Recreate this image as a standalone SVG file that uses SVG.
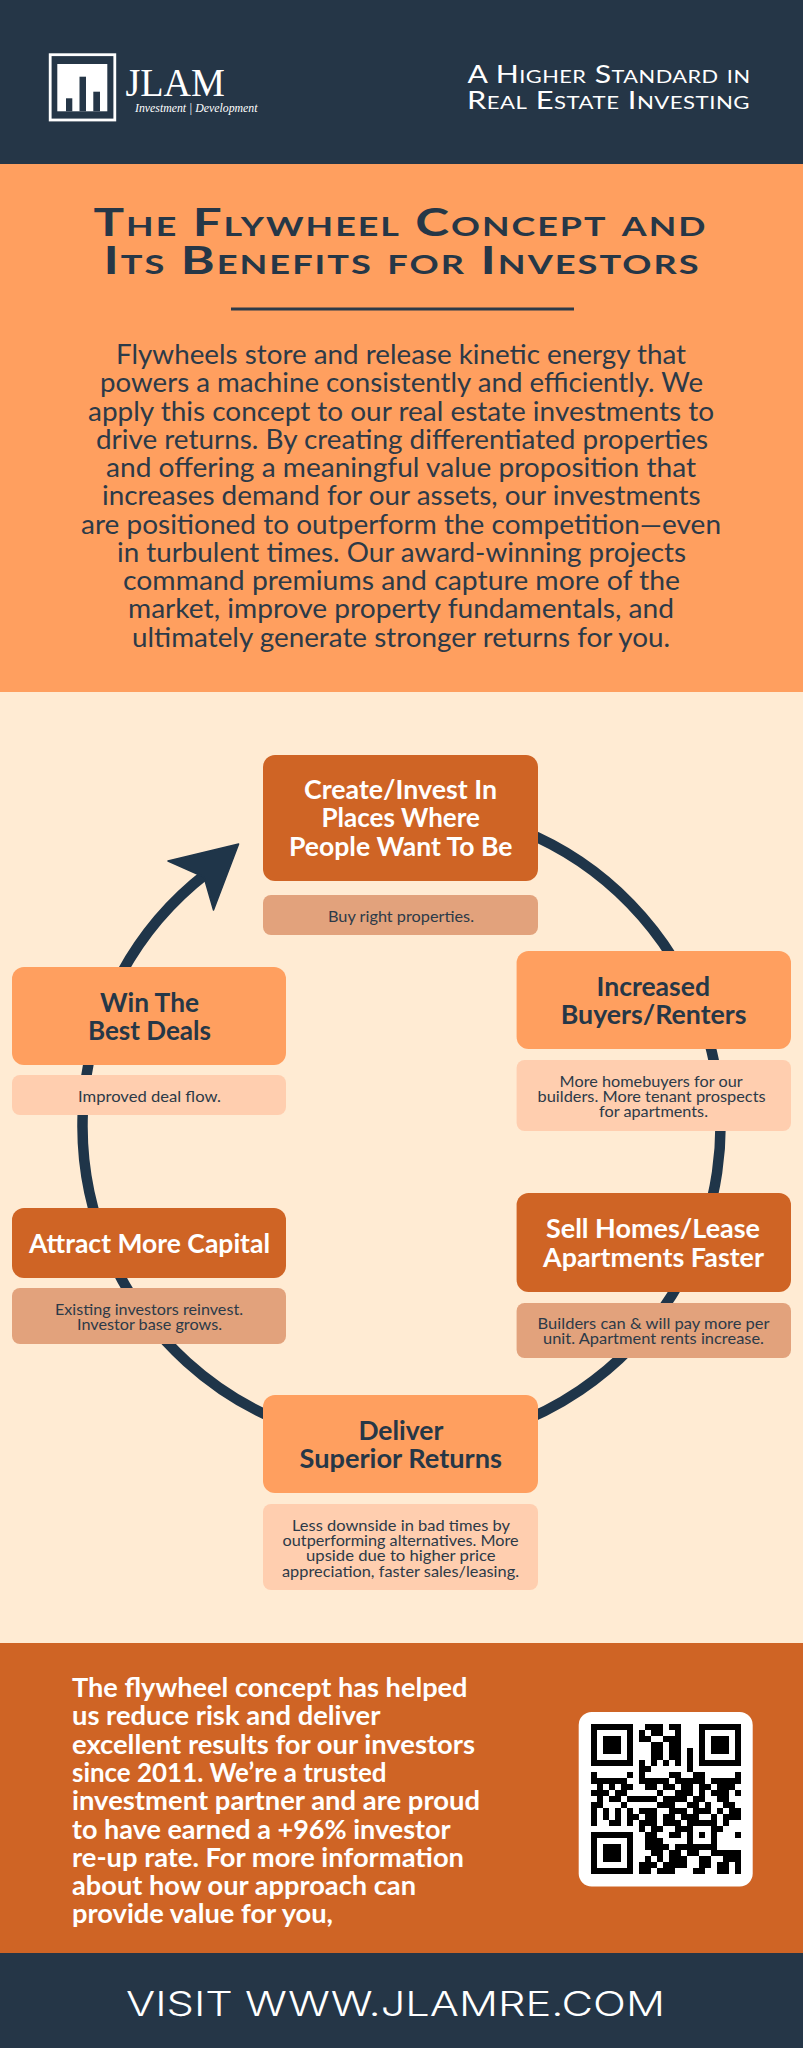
<svg xmlns="http://www.w3.org/2000/svg" width="803" height="2048" viewBox="0 0 803 2048">
<style>
text{font-family:"Lato","Liberation Sans",sans-serif}
.hd{font-size:25px;fill:#fff;font-variant:small-caps;letter-spacing:.4px}
.ti{font-size:38.5px;font-weight:700;fill:#263747;font-variant:small-caps;letter-spacing:1.5px}
.bd{font-size:26px;fill:#2c3a48}
.nt{font-size:26px;font-weight:700}
.lt{fill:#fff}
.dk{fill:#263747}
.sb{font-size:16px;fill:#2c3a48}
.ft{font-size:26px;font-weight:700;fill:#fff}
.dor{fill:#cf6425}
.lor{fill:#ff9f5f}
.sm{fill:#e2a27c}
.sp{fill:#ffceaf}
</style>
<rect width="803" height="164" fill="#253647"/>
<rect y="164" width="803" height="528" fill="#ff9f5f"/>
<rect y="692" width="803" height="951" fill="#ffebd3"/>
<rect y="1643" width="803" height="310" fill="#cf6425"/>
<rect y="1953" width="803" height="95" fill="#253647"/>

<g id="logo">
<rect x="50.2" y="54.7" width="64.6" height="65.3" fill="none" stroke="#fff" stroke-width="2.8"/>
<rect x="57.3" y="64" width="50" height="47.3" fill="#fff"/>
<rect x="66" y="98.3" width="6.3" height="13" fill="#253647"/>
<rect x="79.5" y="76.7" width="6.5" height="34.6" fill="#253647"/>
<rect x="93.3" y="91.7" width="6.7" height="19.6" fill="#253647"/>
<text x="125.5" y="96" textLength="99.5" lengthAdjust="spacingAndGlyphs" style="font-family:'Liberation Serif',serif;font-size:39px" fill="#fff">JLAM</text>
<text x="135" y="112" textLength="122.5" lengthAdjust="spacingAndGlyphs" style="font-family:'Liberation Serif',serif;font-size:13px;font-style:italic" fill="#fff">Investment | Development</text>
</g>
<g id="tagline">
<text class="hd" x="467.5" y="83" textLength="283" lengthAdjust="spacingAndGlyphs">A Higher Standard in</text>
<text class="hd" x="467" y="109" textLength="283" lengthAdjust="spacingAndGlyphs">Real Estate Investing</text>
</g>
<g id="title">
<text class="ti" x="93.5" y="236" textLength="614" lengthAdjust="spacingAndGlyphs">The Flywheel Concept and</text>
<text class="ti" x="103.5" y="274" textLength="597" lengthAdjust="spacingAndGlyphs">Its Benefits for Investors</text>
<rect x="231" y="307.5" width="343" height="3" fill="#2c3a48"/>
</g>
<g id="intro">
<text class="bd" x="116" y="364" textLength="570" lengthAdjust="spacingAndGlyphs">Flywheels store and release kinetic energy that</text>
<text class="bd" x="100" y="392" textLength="603" lengthAdjust="spacingAndGlyphs">powers a machine consistently and efficiently. We</text>
<text class="bd" x="88" y="420.5" textLength="626" lengthAdjust="spacingAndGlyphs">apply this concept to our real estate investments to</text>
<text class="bd" x="96" y="448.8" textLength="612" lengthAdjust="spacingAndGlyphs">drive returns. By creating differentiated properties</text>
<text class="bd" x="106" y="477" textLength="590" lengthAdjust="spacingAndGlyphs">and offering a meaningful value proposition that</text>
<text class="bd" x="102" y="505.3" textLength="598.5" lengthAdjust="spacingAndGlyphs">increases demand for our assets, our investments</text>
<text class="bd" x="81" y="533.6" textLength="640" lengthAdjust="spacingAndGlyphs">are positioned to outperform the competition—even</text>
<text class="bd" x="117" y="561.9" textLength="569" lengthAdjust="spacingAndGlyphs">in turbulent times. Our award-winning projects</text>
<text class="bd" x="123" y="590.2" textLength="557" lengthAdjust="spacingAndGlyphs">command premiums and capture more of the</text>
<text class="bd" x="128" y="618.4" textLength="546" lengthAdjust="spacingAndGlyphs">market, improve property fundamentals, and</text>
<text class="bd" x="132" y="646.7" textLength="538" lengthAdjust="spacingAndGlyphs">ultimately generate stronger returns for you.</text>
</g>

<g id="connectors">
<path d="M521.5 830.4A319 319 0 1 1 206.5 873.5" fill="none" stroke="#1f3549" stroke-width="10.5"/>
<path d="M238.6 844L168 861L204 877L213.5 910Z" fill="#1f3549" stroke="#1f3549" stroke-width="1.5" stroke-linejoin="round"/>
</g>

<g id="node-create">
<rect class="dor" x="263" y="755" width="275" height="126" rx="12"/>
<text class="nt lt" x="304" y="799" textLength="193" lengthAdjust="spacingAndGlyphs">Create/Invest In</text>
<text class="nt lt" x="321.5" y="827" textLength="158.5" lengthAdjust="spacingAndGlyphs">Places Where</text>
<text class="nt lt" x="289" y="856" textLength="223.5" lengthAdjust="spacingAndGlyphs">People Want To Be</text>
<rect class="sm" x="263" y="895" width="275" height="40" rx="8"/>
<text class="sb" x="328" y="921.5" textLength="146" lengthAdjust="spacingAndGlyphs">Buy right properties.</text>
</g>
<g id="node-buyers">
<rect class="lor" x="516.6" y="951" width="274.4" height="98" rx="12"/>
<text class="nt dk" x="596.5" y="996" textLength="113.5" lengthAdjust="spacingAndGlyphs">Increased</text>
<text class="nt dk" x="560.7" y="1024" textLength="185.8" lengthAdjust="spacingAndGlyphs">Buyers/Renters</text>
<rect class="sp" x="516.6" y="1060" width="274.4" height="71" rx="8"/>
<text class="sb" x="559.6" y="1087" textLength="183" lengthAdjust="spacingAndGlyphs">More homebuyers for our</text>
<text class="sb" x="537.6" y="1102" textLength="228" lengthAdjust="spacingAndGlyphs">builders. More tenant prospects</text>
<text class="sb" x="599" y="1117" textLength="109" lengthAdjust="spacingAndGlyphs">for apartments.</text>
</g>
<g id="node-sell">
<rect class="dor" x="516.6" y="1193" width="274.4" height="99" rx="12"/>
<text class="nt lt" x="546" y="1238" textLength="214" lengthAdjust="spacingAndGlyphs">Sell Homes/Lease</text>
<text class="nt lt" x="543" y="1267" textLength="221" lengthAdjust="spacingAndGlyphs">Apartments Faster</text>
<rect class="sm" x="516.6" y="1303" width="274.4" height="55" rx="8"/>
<text class="sb" x="537.6" y="1329" textLength="232" lengthAdjust="spacingAndGlyphs">Builders can &amp; will pay more per</text>
<text class="sb" x="543" y="1344" textLength="221" lengthAdjust="spacingAndGlyphs">unit. Apartment rents increase.</text>
</g>
<g id="node-returns">
<rect class="lor" x="263" y="1395" width="275" height="98" rx="12"/>
<text class="nt dk" x="358.4" y="1440" textLength="85" lengthAdjust="spacingAndGlyphs">Deliver</text>
<text class="nt dk" x="299.5" y="1468" textLength="202.5" lengthAdjust="spacingAndGlyphs">Superior Returns</text>
<rect class="sp" x="263" y="1504" width="275" height="86" rx="8"/>
<text class="sb" x="292" y="1531" textLength="218" lengthAdjust="spacingAndGlyphs">Less downside in bad times by</text>
<text class="sb" x="282.6" y="1546" textLength="236" lengthAdjust="spacingAndGlyphs">outperforming alternatives. More</text>
<text class="sb" x="306" y="1561" textLength="189.6" lengthAdjust="spacingAndGlyphs">upside due to higher price</text>
<text class="sb" x="282" y="1577" textLength="237" lengthAdjust="spacingAndGlyphs">appreciation, faster sales/leasing.</text>
</g>
<g id="node-capital">
<rect class="dor" x="12" y="1208" width="274" height="70" rx="12"/>
<text class="nt lt" x="29" y="1253" textLength="241" lengthAdjust="spacingAndGlyphs">Attract More Capital</text>
<rect class="sm" x="12" y="1288" width="274" height="56" rx="8"/>
<text class="sb" x="55" y="1315" textLength="188" lengthAdjust="spacingAndGlyphs">Existing investors reinvest.</text>
<text class="sb" x="77" y="1330" textLength="145" lengthAdjust="spacingAndGlyphs">Investor base grows.</text>
</g>
<g id="node-deals">
<rect class="lor" x="12" y="967" width="274" height="98" rx="12"/>
<text class="nt dk" x="100" y="1012" textLength="99" lengthAdjust="spacingAndGlyphs">Win The</text>
<text class="nt dk" x="88" y="1040" textLength="123" lengthAdjust="spacingAndGlyphs">Best Deals</text>
<rect class="sp" x="12" y="1075" width="274" height="40" rx="8"/>
<text class="sb" x="78" y="1102" textLength="143" lengthAdjust="spacingAndGlyphs">Improved deal flow.</text>
</g>

<g id="closing">
<text class="ft" x="72" y="1697" textLength="395.5" lengthAdjust="spacingAndGlyphs">The flywheel concept has helped</text>
<text class="ft" x="72" y="1725" textLength="308.4" lengthAdjust="spacingAndGlyphs">us reduce risk and deliver</text>
<text class="ft" x="72" y="1754" textLength="403" lengthAdjust="spacingAndGlyphs">excellent results for our investors</text>
<text class="ft" x="72" y="1782" textLength="314.6" lengthAdjust="spacingAndGlyphs">since 2011. We’re a trusted</text>
<text class="ft" x="72" y="1810" textLength="408" lengthAdjust="spacingAndGlyphs">investment partner and are proud</text>
<text class="ft" x="72" y="1839" textLength="378.6" lengthAdjust="spacingAndGlyphs">to have earned a +96% investor</text>
<text class="ft" x="72" y="1867" textLength="392" lengthAdjust="spacingAndGlyphs">re-up rate. For more information</text>
<text class="ft" x="72" y="1895" textLength="344" lengthAdjust="spacingAndGlyphs">about how our approach can</text>
<text class="ft" x="72" y="1923" textLength="261" lengthAdjust="spacingAndGlyphs">provide value for you,</text>
</g>
<g id="qr">
<rect x="578.7" y="1712" width="174" height="174.5" rx="13" fill="#fff"/>
<g transform="translate(590.7 1724) scale(6)" shape-rendering="crispEdges">
<path fill="#000" d="M0 0h7v7h-7zM1 1v5h5v-5zM2 2h3v3h-3zM18 0h7v7h-7zM19 1v5h5v-5zM20 2h3v3h-3zM0 18h7v7h-7zM1 19v5h5v-5zM2 20h3v3h-3z" fill-rule="evenodd"/>
<path fill="none" stroke="#000" stroke-width="1" d="M9 .5h3M13 .5h2M8 1.5h1M10 1.5h2M14 1.5h1M8 2.5h2M12 2.5h3M10 3.5h2M13 3.5h2M10 4.5h2M13 4.5h2M16 4.5h1M10 5.5h2M13 5.5h2M16 5.5h1M8 6.5h1M10 6.5h1M12 6.5h1M14 6.5h1M16 6.5h1M8 7.5h2M16 7.5h1M0 8.5h1M6 8.5h1M8 8.5h1M13 8.5h2M17 8.5h2M24 8.5h1M0 9.5h6M8 9.5h5M14 9.5h5M20 9.5h5M1 10.5h1M3 10.5h1M5 10.5h2M9 10.5h2M12 10.5h2M15 10.5h2M18 10.5h2M21 10.5h3M0 11.5h3M4 11.5h2M11 11.5h1M14 11.5h3M18 11.5h1M20 11.5h3M24 11.5h1M1 12.5h1M3 12.5h2M6 12.5h5M12 12.5h4M17 12.5h2M21 12.5h2M0 13.5h2M5 13.5h1M11 13.5h3M16 13.5h2M19 13.5h1M22 13.5h2M0 14.5h1M2 14.5h1M4 14.5h1M6 14.5h1M8 14.5h3M13 14.5h3M17 14.5h3M21 14.5h1M23 14.5h2M0 15.5h1M2 15.5h1M4 15.5h1M6 15.5h2M9 15.5h2M12 15.5h2M15 15.5h3M20 15.5h1M22 15.5h3M0 16.5h1M3 16.5h2M6 16.5h1M8 16.5h3M12 16.5h3M16 16.5h5M22 16.5h1M8 17.5h1M10 17.5h2M14 17.5h3M20 17.5h2M9 18.5h2M13 18.5h2M16 18.5h1M18 18.5h1M20 18.5h1M24 18.5h1M9 19.5h3M16 19.5h1M20 19.5h1M9 20.5h4M14 20.5h7M10 21.5h2M13 21.5h2M16 21.5h2M20 21.5h5M9 22.5h1M11 22.5h1M13 22.5h3M18 22.5h2M22 22.5h3M8 23.5h3M12 23.5h4M18 23.5h2M21 23.5h2M24 23.5h1M8 24.5h2M11 24.5h3M17 24.5h2M21 24.5h2M24 24.5h1"/>
</g>
</g>
<g id="footer">
<text x="126" y="2016" textLength="539" lengthAdjust="spacingAndGlyphs" style="font-family:'Inter','Lato',sans-serif;font-size:34px;font-weight:300" fill="#fff">VISIT WWW.JLAMRE.COM</text>
</g>
</svg>
